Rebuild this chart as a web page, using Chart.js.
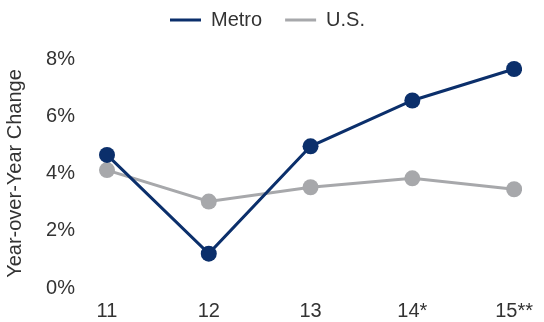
<!DOCTYPE html>
<html>
<head>
<meta charset="utf-8">
<script src="https://cdn.jsdelivr.net/npm/chart.js@4/dist/chart.umd.min.js"></script>
<style>
  html, body { margin: 0; padding: 0; background: #fff; }
  #wrap { width: 544px; height: 322px; position: relative; }
</style>
</head>
<body>
<div id="wrap"><canvas id="yoyChart"></canvas></div>
<script>
// Year-over-year change, metro vs. national
const years = ['11', '12', '13', '14*', '15**'];
const metroChange = [4.65, 1.2, 4.95, 6.55, 7.65];
const usChange = [4.12, 3.02, 3.52, 3.83, 3.45];
const yTicks = [0, 2, 4, 6, 8];

const NAVY = '#0b2f6b';
const GREY = '#a7a8ab';
const TEXT = '#333333';

Chart.defaults.font.family = '"Liberation Sans", Arial, Helvetica, sans-serif';
Chart.defaults.font.size = 20;
Chart.defaults.color = TEXT;

// fixed legend band above the plot, nudged up and right a little
const legendBand = {
  id: 'legendBand',
  beforeInit(chart) {
    const fit = chart.legend.fit;
    chart.legend.fit = function () {
      fit.bind(chart.legend)();
      this.height = 59;
    };
  },
  afterLayout(chart) {
    const lg = chart.legend;
    lg.top -= 13;
    lg.bottom -= 13;
    lg.left += 10;
    lg.right += 10;
  }
};

const ctx = document.getElementById('yoyChart').getContext('2d');

new Chart(ctx, {
  type: 'line',
  data: {
    labels: years,
    datasets: [
      {
        label: 'Metro',
        data: metroChange,
        borderColor: NAVY,
        backgroundColor: NAVY,
        borderWidth: 3,
        pointRadius: 8,
        pointHoverRadius: 8,
        pointBackgroundColor: NAVY,
        pointBorderWidth: 0,
        tension: 0
      },
      {
        label: 'U.S.',
        data: usChange,
        borderColor: GREY,
        backgroundColor: GREY,
        borderWidth: 3,
        pointRadius: 8,
        pointHoverRadius: 8,
        pointBackgroundColor: GREY,
        pointBorderWidth: 0,
        tension: 0
      }
    ]
  },
  plugins: [legendBand],
  options: {
    responsive: true,
    maintainAspectRatio: false,
    animation: false,
    layout: { padding: { left: 0, right: 29, top: 0, bottom: 0 } },
    plugins: {
      legend: {
        position: 'top',
        labels: {
          usePointStyle: true,
          pointStyle: 'line',
          pointStyleWidth: 31,
          boxHeight: 3,
          padding: 23,
          font: { size: 20 },
          color: TEXT,
          generateLabels: chart => chart.data.datasets.map((ds, i) => ({
            text: ds.label,
            strokeStyle: ds.borderColor,
            fillStyle: ds.borderColor,
            fontColor: TEXT,
            lineWidth: 3,
            lineCap: 'butt',
            pointStyle: 'line',
            hidden: !chart.isDatasetVisible(i),
            datasetIndex: i
          }))
        }
      },
      tooltip: { enabled: false }
    },
    scales: {
      x: {
        offset: false,
        grid: { display: false, drawTicks: false },
        border: { display: false },
        ticks: { padding: 11, color: TEXT, font: { size: 20 }, maxRotation: 0 },
        afterFit: axis => { axis.height = 34; }
      },
      y: {
        min: 0,
        max: 8,
        afterBuildTicks: axis => {
          axis.ticks = yTicks.map(v => ({ value: v }));
        },
        grid: { display: false, drawTicks: false },
        border: { display: false },
        ticks: {
          padding: 32,
          color: TEXT,
          font: { size: 20 },
          callback: v => v + '%'
        },
        title: {
          display: true,
          text: 'Year-over-Year Change',
          color: TEXT,
          font: { size: 20 },
          padding: { top: 3, bottom: 20 }
        },
        afterFit: axis => {
          axis.width = 107;
          axis.paddingTop = 0;
          axis.paddingBottom = 0;
        }
      }
    }
  }
});
</script>
</body>
</html>
